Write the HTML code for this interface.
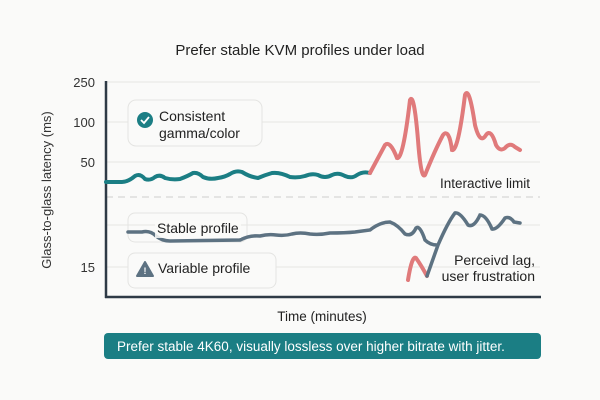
<!DOCTYPE html>
<html><head><style>
body{margin:0;background:#fafaf9;}
svg{display:block;font-family:"Liberation Sans",sans-serif;}
</style></head><body>
<svg width="600" height="400" viewBox="0 0 600 400">
<rect width="600" height="400" fill="#fafaf9"/>
<text x="300" y="55" text-anchor="middle" font-size="15" fill="#222">Prefer stable KVM profiles under load</text>
<g stroke="#e6e6e4" stroke-width="1">
<line x1="106" y1="82" x2="540" y2="82"/>
<line x1="106" y1="122" x2="540" y2="122"/>
<line x1="106" y1="162" x2="540" y2="162"/>
<line x1="106" y1="225" x2="540" y2="225"/>
<line x1="106" y1="267" x2="540" y2="267"/>
</g>
<line x1="106" y1="197" x2="540" y2="197" stroke="#d8d8d6" stroke-width="1.2" stroke-dasharray="7,5"/>
<g font-size="13" fill="#333" text-anchor="end">
<text x="95" y="87">250</text><text x="95" y="127">100</text><text x="95" y="167">50</text><text x="95" y="272">15</text>
</g>
<text transform="translate(51,190) rotate(-90)" text-anchor="middle" font-size="13" fill="#333">Glass-to-glass latency (ms)</text>
<line x1="106" y1="81" x2="106" y2="298" stroke="#2e3a46" stroke-width="2.5"/>
<line x1="105" y1="297" x2="541" y2="297" stroke="#2e3a46" stroke-width="2.5"/>
<text x="322" y="321" text-anchor="middle" font-size="13.5" fill="#222">Time (minutes)</text>
<rect x="128" y="100" width="134" height="46" rx="8" fill="#fafaf9" stroke="#e4e4e2"/>
<rect x="128" y="213" width="119" height="29" rx="7" fill="none" stroke="#e4e4e2"/>
<rect x="128" y="253" width="148" height="35" rx="7" fill="#fafaf9" stroke="#e4e4e2"/>
<path d="M106,182 L122,182 Q128,182 135,176 Q140,173 145,179 Q150,181 155,177 Q160,174 165,178 Q172,180 180,179 Q188,176 193,173 Q198,172 203,177 Q210,180 218,178 Q225,177 230,174 Q236,170 242,172 Q250,177 258,178 Q265,175 272,173 Q280,172 290,177 Q298,178 305,176 Q312,173 318,175 Q325,179 332,175 Q338,172 345,176 Q352,179 357,175 Q363,171 370,173" fill="none" stroke="#1b7e84" stroke-width="4" stroke-linecap="round"/>
<path d="M370,173 Q378,158 385,145 Q390,140 397,158 Q403,160 410,100 Q414,92 418,140 Q421,180 425,175 Q435,150 443,135 Q449,128 452,150 Q458,152 465,95 Q469,85 475,125 Q480,145 486,135 Q491,128 496,145 Q500,152 505,148 Q510,142 515,147 L520,150" fill="none" stroke="#e07a7b" stroke-width="4" stroke-linecap="round"/>
<path d="M408,280 Q412,255 416,258 Q421,265 427,276" fill="none" stroke="#e07a7b" stroke-width="4" stroke-linecap="round"/>
<path d="M128,232 L142,232 Q150,230 156,236 Q162,241 170,241 L240,240 Q250,235 260,236 Q268,234 276,235 Q285,236 292,234 Q300,232 310,234 Q320,235 330,233 Q345,233 355,232 L370,230 Q380,222 390,222 Q398,225 405,234 Q412,237 416,228 Q420,225 425,240 Q430,245 437,245 M427,276 L438,245 Q448,222 455,213 Q460,212 468,225 Q474,228 480,215 Q486,215 492,229 Q497,230 505,218 Q510,216 514,222 L520,223" fill="none" stroke="#5d7282" stroke-width="3.5" stroke-linecap="round"/>
<circle cx="145" cy="120" r="8" fill="#1b7e84"/>
<path d="M141,120 L144,123 L149,117" fill="none" stroke="#fff" stroke-width="1.8"/>
<text x="159" y="121" font-size="14" fill="#222">Consistent</text>
<text x="159" y="138" font-size="14" fill="#222">gamma/color</text>
<rect x="155" y="221" width="86" height="17" fill="#fafaf9" fill-opacity="0.85"/>
<text x="157" y="233" font-size="14" fill="#222">Stable profile</text>
<path d="M145,262 L153,276 L137,276 Z" fill="#5d7282" stroke="#5d7282" stroke-linejoin="round" stroke-width="2"/>
<text x="145" y="274" text-anchor="middle" font-size="9" font-weight="bold" fill="#fff">!</text>
<text x="158" y="273" font-size="14" fill="#222">Variable profile</text>
<text x="530" y="188" text-anchor="end" font-size="13.5" fill="#222">Interactive limit</text>
<text x="535" y="265" text-anchor="end" font-size="14" fill="#222">Perceivd lag,</text>
<text x="535" y="281" text-anchor="end" font-size="14" fill="#222">user frustration</text>
<rect x="104" y="333" width="437" height="26" rx="4" fill="#1b7e84"/>
<text x="117" y="351" font-size="13.5" fill="#fff">Prefer stable 4K60, visually lossless over higher bitrate with jitter.</text>
</svg>
</body></html>
